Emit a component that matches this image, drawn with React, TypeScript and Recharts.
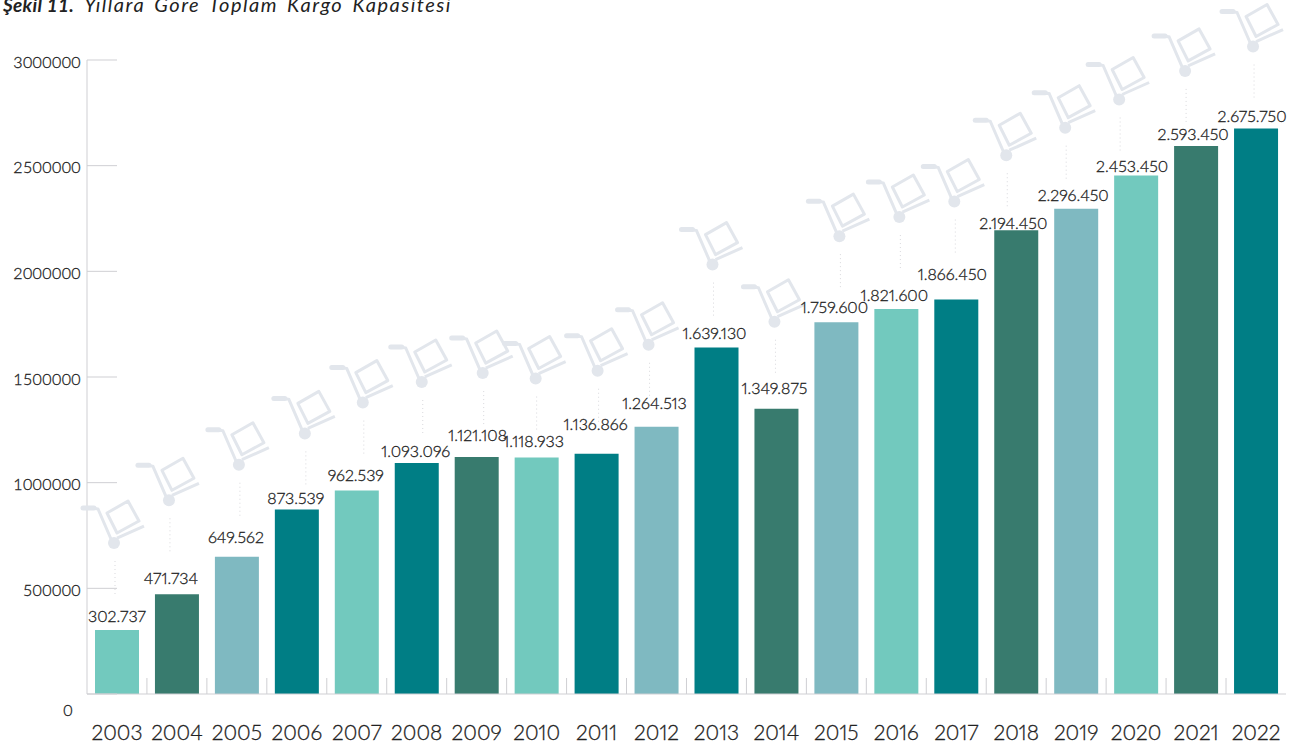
import React from "react";
import { BarChart, Bar, XAxis, YAxis, Cell, LabelList } from "recharts";

const years = ["2003","2004","2005","2006","2007","2008","2009","2010","2011","2012","2013","2014","2015","2016","2017","2018","2019","2020","2021","2022"];
const values = [302737,471734,649562,873539,962539,1093096,1121108,1118933,1136866,1264513,1639130,1349875,1759600,1821600,1866450,2194450,2296450,2453450,2593450,2675750];
const yTicks = [0,500000,1000000,1500000,2000000,2500000,3000000];

const L = "#72C9BE", G = "#387B6E", B = "#7FB9C1", T = "#007E85";
const barColors = [L,G,B,T,L,T,G,L,T,B,T,G,B,L,T,G,B,L,G,T];

// decorative offsets, relative to each bar's top centre
const iconDx = [-3,-8,2,8,6,5,6,-1,1,-8,-4,-2,3,3,-2,-10,-11,-17,-11,-3];
const iconDy = [-87,-94,-92,-76,-88,-81,-84,-79,-83,-82,-83,-87,-86,-92,-98,-75,-81,-76,-75,-82];
const labelDx = [0,-6,-1,-1,-1,-1,1,-3,-1,-2,-2,-2,-2,-2,-4,-3,-3,-4,-3,-4];
const labelDy = [-15,-17,-20,-12,-16,-12,-23,-17,-30,-24,-15,-21,-16,-15,-26,-8,-14,-10,-12,-13];

const data = years.map((year, i) => ({ year, value: values[i] }));
const dotted = values.map((v) => v.toLocaleString("de-DE"));

const FONT = "Lato, sans-serif";
const INK = "#222222";
const AXIS = "#cfcfd3";
const ICON = "#e2e6ec";
const PNUM = { fontVariantNumeric: "proportional-nums" } as const;
const BOLDEN = { stroke: INK, strokeWidth: 0.3 };

function Trolley({ cx, cy }: { cx: number; cy: number }) {
  const P = (pts: number[][]) => pts.map(([a, b]) => `${cx + a},${cy + b}`).join(" ");
  return (
    <g>
      <polyline points={P([[-31,-35],[-20,-35]])} fill="none" stroke={ICON} strokeWidth={5} strokeLinecap="round" />
      <polyline points={P([[-21,-35],[-16,-34],[-3,-4]])} fill="none" stroke={ICON} strokeWidth={3} />
      <polyline points={P([[3,-5],[30,-17]])} fill="none" stroke={ICON} strokeWidth={3} />
      <polygon points={P([[-7,-30],[14,-42],[25,-22],[3,-10]])} fill="none" stroke={ICON} strokeWidth={3} strokeLinejoin="round" />
      <circle cx={cx} cy={cy} r={6} fill={ICON} />
      <line x1={cx + 1} x2={cx + 1} y1={cy + 18} y2={cy + 52} stroke="#d8d8dc" strokeWidth={1} strokeDasharray="1 3" />
    </g>
  );
}

const IconMark = (p: any) => {
  const { x, y, width, index } = p;
  return <Trolley cx={x + width / 2 + iconDx[index]} cy={y + iconDy[index]} />;
};

const ValueMark = (p: any) => {
  const { x, y, width, index } = p;
  return (
    <text x={x + width / 2 + labelDx[index]} y={y + labelDy[index]} textAnchor="middle" dominantBaseline="central"
      fontFamily={FONT} fontSize={16} fontWeight={300} fill={INK} {...BOLDEN} style={PNUM}>
      {dotted[index]}
    </text>
  );
};

const YTick = (p: any) => {
  const { x, y, payload } = p;
  const axisX = x + 8;
  const isZero = payload.value === 0;
  return (
    <g>
      <line x1={axisX} x2={axisX + 30} y1={y} y2={y} stroke={AXIS} strokeWidth={1} />
      <text x={isZero ? 73 : 81} y={isZero ? y + 15 : y + 1} textAnchor="end" dominantBaseline="central"
        fontFamily={FONT} fontSize={16} fontWeight={300} letterSpacing={0.4} fill={INK} {...BOLDEN}>
        {payload.value}
      </text>
    </g>
  );
};

const XTick = (p: any) => {
  const { x, y, payload, index } = p;
  return (
    <g>
      {index > 0 && <line x1={x - 30} x2={x - 30} y1={y - 24} y2={y - 8} stroke={AXIS} strokeWidth={1} />}
      <text x={x} y={y + 29} textAnchor="middle" dominantBaseline="central" fontFamily={FONT} fontSize={21} fontWeight={300} fill={INK} {...BOLDEN} style={PNUM}>
        {payload.value}
      </text>
    </g>
  );
};

export default function App() {
  return (
    <div style={{ position: "absolute", left: 0, top: 0, width: 1291, height: 751, overflow: "hidden", background: "#fff" }}>
      <div style={{ position: "absolute", left: 3, top: -6, fontFamily: FONT, fontStyle: "italic", fontSize: 20, lineHeight: "20px", color: INK, whiteSpace: "nowrap" }}>
        <b style={{ fontSize: 19, letterSpacing: 0.3 }}>Şekil 11.</b>
        <span style={{ fontWeight: 400, letterSpacing: 1.5, wordSpacing: 3, marginLeft: 10 }}>Yıllara Göre Toplam Kargo Kapasitesi</span>
      </div>
      <BarChart width={1291} height={751} data={data} margin={{ top: 60, right: 5, left: 0, bottom: 0 }} barSize={44}>
        <XAxis dataKey="year" height={57} tickLine={false} axisLine={{ stroke: AXIS }} tick={<XTick />} interval={0} />
        <YAxis width={87} domain={[0, 3000000]} ticks={yTicks} tickLine={false} axisLine={{ stroke: AXIS }} tick={<YTick />} interval={0} />
        <Bar dataKey="value" isAnimationActive={false}>
          {data.map((d, i) => <Cell key={d.year} fill={barColors[i]} />)}
          <LabelList dataKey="value" content={<IconMark />} />
          <LabelList dataKey="value" content={<ValueMark />} />
        </Bar>
      </BarChart>
    </div>
  );
}
